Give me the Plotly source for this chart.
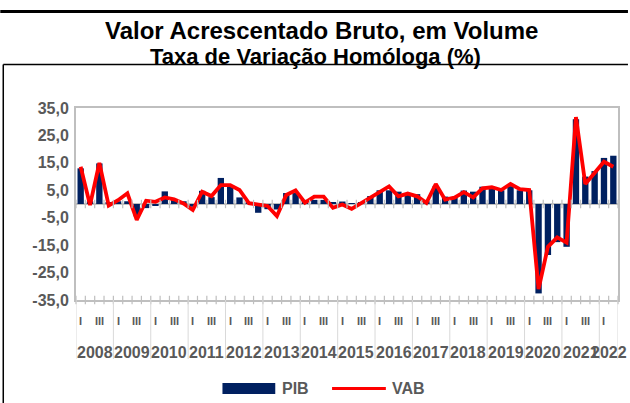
import plotly.graph_objects as go

# ---------------- data ----------------
years = [str(y) for y in range(2008, 2023)]
quarter_labels = ["I", "II", "III", "IV"]
n_quarters = 58  # 2008 Q1 .. 2022 Q2

pib = [13.0, 1.0, 14.8, 0.5,
       1.0, 1.0, -4.5, -1.5,
       -0.5, 4.6, 1.5, 1.0,
       -1.0, 4.8, 2.5, 9.5,
       6.3, 2.4, 0.5, -3.2,
       -1.9, -2.0, 4.0, 4.0,
       1.5, 1.5, 1.5, 0.5,
       0.9, 0.3, 0.5, 2.9,
       5.0, 5.0, 4.5, 3.4,
       3.6, 1.0, 6.6, 2.7,
       2.2, 4.9, 4.5, 6.3,
       6.3, 5.0, 6.5, 5.0,
       5.0, -32.6, -18.6, -13.9,
       -15.6, 30.9, 10.0, 12.0,
       16.8, 17.6]

vab = [13.6, -0.4, 15.0, -0.6,
       1.4, 3.9, -5.8, 1.2,
       0.8, 2.4, 1.7, 0.2,
       -2.2, 4.5, 2.9, 6.9,
       6.9, 5.1, 0.3, -0.2,
       -0.7, -4.4, 3.3, 5.0,
       0.5, 2.7, 2.7, -1.4,
       -0.2, -1.8, 0.3, 2.2,
       4.2, 6.4, 2.8, 3.8,
       2.8, 0.4, 7.3, 1.6,
       2.3, 4.3, 2.4, 5.7,
       6.1, 5.1, 7.3, 5.4,
       5.1, -31.0, -15.6, -12.2,
       -14.1, 31.7, 7.3, 11.2,
       15.4, 13.6]

y_ticks = [35, 25, 15, 5, -5, -15, -25, -35]
y_tick_text = ["35,0", "25,0", "15,0", "5,0", "-5,0", "-15,0", "-25,0", "-35,0"]

# ---------------- styling ----------------
W, H = 630, 403
L, R, T, B = 76, 10, 108, 103          # plot area 76..620 x 108..300
PW, PH = W - L - R, H - T - B
NAVY = "#002060"
RED = "#FF0000"
GREY_TXT = "#595959"
AXIS_GREY = "#BFBFBF"
FONT = "Liberation Sans, Arial, sans-serif"


def px(xp):
    return (xp - L) / PW


def py(yp):
    return (H - B - yp) / PH


x = list(range(n_quarters))
boundaries = [i - 0.5 for i in range(n_quarters + 1)]

fig = go.Figure()
fig.add_trace(go.Bar(x=x, y=pib, name="PIB", marker=dict(color=NAVY, line=dict(width=0)),
                     showlegend=False, hoverinfo="skip"))
fig.add_trace(go.Scatter(x=x, y=vab, name="VAB", mode="lines",
                         line=dict(color=RED, width=3.8), showlegend=False,
                         hoverinfo="skip"))
# small tick marks on zero line and bottom axis (category boundaries)
for yv in (0, -35):
    fig.add_trace(go.Scatter(x=boundaries, y=[yv] * len(boundaries), mode="markers",
                             marker=dict(symbol="line-ns-open", size=6, color=AXIS_GREY,
                                         line=dict(color=AXIS_GREY, width=1.2)),
                             showlegend=False, hoverinfo="skip", cliponaxis=False))

ann = []
shapes = []

# quarter labels I / III and year labels
for yi, yr in enumerate(years):
    q_idx = [4 * yi + q for q in range(4) if 4 * yi + q < n_quarters]
    for qi in q_idx:
        lab = quarter_labels[qi % 4]
        if lab in ("I", "III"):
            ann.append(dict(x=qi, y=py(321), xref="x", yref="paper", text=lab,
                            showarrow=False, yanchor="middle",
                            font=dict(family=FONT, size=11, color=GREY_TXT, weight="bold")))
    ann.append(dict(x=(q_idx[0] + q_idx[-1]) / 2, y=py(352), xref="x", yref="paper",
                    text=yr, showarrow=False, yanchor="middle",
                    font=dict(family=FONT, size=16, color=GREY_TXT, weight="bold")))
    shapes.append(dict(type="line", xref="x", yref="paper", x0=q_idx[0] - 0.5,
                       x1=q_idx[0] - 0.5, y0=0, y1=py(359),
                       line=dict(color="#D9D9D9", width=1)))
shapes.append(dict(type="line", xref="x", yref="paper", x0=n_quarters - 0.5,
                   x1=n_quarters - 0.5, y0=0, y1=py(359),
                   line=dict(color="#D9D9D9", width=1)))

# titles
ann.append(dict(x=px(322), y=py(31), xref="paper", yref="paper", showarrow=False,
                text="Valor Acrescentado Bruto, em Volume", yanchor="middle",
                font=dict(family=FONT, size=24, color="black", weight="bold")))
ann.append(dict(x=px(316), y=py(56), xref="paper", yref="paper", showarrow=False,
                text="Taxa de Variação Homóloga (%)", yanchor="middle",
                font=dict(family=FONT, size=22, color="black", weight="bold")))

# custom legend
shapes.append(dict(type="rect", xref="paper", yref="paper", x0=px(223), x1=px(276),
                   y0=py(394), y1=py(383), fillcolor=NAVY, line=dict(width=0)))
ann.append(dict(x=px(281), y=py(388.5), xref="paper", yref="paper", showarrow=False,
                text="PIB", xanchor="left", yanchor="middle",
                font=dict(family=FONT, size=16, color=GREY_TXT, weight="bold")))
shapes.append(dict(type="line", xref="paper", yref="paper", x0=px(333), x1=px(387),
                   y0=py(388.5), y1=py(388.5), line=dict(color=RED, width=3)))
ann.append(dict(x=px(391), y=py(388.5), xref="paper", yref="paper", showarrow=False,
                text="VAB", xanchor="left", yanchor="middle",
                font=dict(family=FONT, size=16, color=GREY_TXT, weight="bold")))

# outer frame lines
shapes.append(dict(type="line", xref="paper", yref="paper", x0=px(0), x1=px(630),
                   y0=py(11.5), y1=py(11.5), line=dict(color="black", width=3)))
shapes.append(dict(type="line", xref="paper", yref="paper", x0=px(3), x1=px(630),
                   y0=py(64.5), y1=py(64.5), line=dict(color="black", width=1.5)))
shapes.append(dict(type="line", xref="paper", yref="paper", x0=px(3), x1=px(3),
                   y0=py(64.5), y1=py(403), line=dict(color="black", width=1.5)))

fig.update_layout(
    width=W, height=H,
    margin=dict(l=L, r=R, t=T, b=B, pad=0),
    paper_bgcolor="white", plot_bgcolor="white",
    bargap=0.32,
    showlegend=False,
    annotations=ann, shapes=shapes,
    xaxis=dict(range=[-0.5, n_quarters - 0.5], showticklabels=False, ticks="",
               showgrid=False, zeroline=False, showline=True, mirror=True,
               linecolor=AXIS_GREY, linewidth=2, fixedrange=True),
    yaxis=dict(range=[-35, 35], tickvals=y_ticks, ticktext=y_tick_text, ticks="",
               showgrid=False, zeroline=True, zerolinecolor=AXIS_GREY, zerolinewidth=1.5,
               showline=True, mirror=True, linecolor=AXIS_GREY, linewidth=2,
               ticklabelstandoff=2,
               tickfont=dict(family=FONT, size=16, color=GREY_TXT, weight="bold"),
               fixedrange=True),
)

fig.write_html("out.html", config={"displayModeBar": False},
               post_script="document.body.style.margin='0';document.body.style.overflow='hidden';")
